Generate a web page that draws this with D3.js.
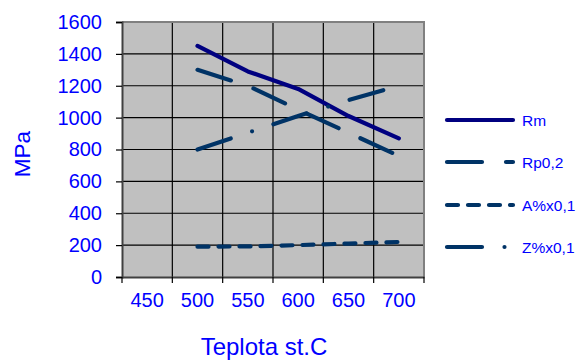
<!DOCTYPE html>
<html><head><meta charset="utf-8">
<script src="https://cdn.jsdelivr.net/npm/d3@7"></script>
<style>html,body{margin:0;padding:0;background:#fff}svg{display:block}</style>
</head><body>
<svg id="c" width="580" height="360"></svg>
<script>
const categories = ["450","500","550","600","650","700"];
const temps = ["500","550","600","650","700"];
const Rm = [1450, 1290, 1180, 1010, 870];
const Rp02 = [1300, 1200, 1050, 905, 760];
const A01 = [190, 192, 200, 210, 220];
const Z01 = [800, 905, 1010, 1110, 1200];
const yTicks = [0,200,400,600,800,1000,1200,1400,1600];
const seriesNames = ["Rm","Rp0,2","A%x0,1","Z%x0,1"];

const series = [
  {name: seriesNames[0], values: Rm, color: "#000080", dash: null},
  {name: seriesNames[1], values: Rp02, color: "#003366", dash: "35,24"},
  {name: seriesNames[2], values: A01, color: "#003366", dash: "11,10"},
  {name: seriesNames[3], values: Z01, color: "#003366", dash: "35,22.5,0,22.5"}
];

const L = 122, R = 424, T = 22, B = 277;
const font = "'Liberation Sans', Arial, sans-serif";
const blue = "#0000ff";
const svg = d3.select("#c");

const x = d3.scaleBand().domain(categories).range([L, R]).padding(0);
const y = d3.scaleLinear().domain([0, 1600]).range([B, T]);

svg.append("rect").attr("x", L).attr("y", T).attr("width", R - L).attr("height", B - T)
  .attr("fill", "#c0c0c0");

svg.append("g").selectAll("line").data(yTicks.filter(d => d > 0 && d < 1600)).join("line")
  .attr("x1", L).attr("x2", R).attr("y1", d => y(d)).attr("y2", d => y(d))
  .attr("stroke", "#000").attr("stroke-width", 1.2);

const bounds = categories.slice(1).map(c => x(c));
svg.append("g").selectAll("line").data(bounds).join("line")
  .attr("x1", d => d).attr("x2", d => d).attr("y1", T).attr("y2", B)
  .attr("stroke", "#000").attr("stroke-width", 1.2);

svg.append("path").attr("d", `M${L},${T}H${R}V${B}`).attr("fill", "none")
  .attr("stroke", "#808080").attr("stroke-width", 2);

const yAxis = d3.axisLeft(y).tickValues(yTicks).tickSize(6).tickPadding(14).tickFormat(d3.format("d"));
const gy = svg.append("g").attr("transform", `translate(${L},0)`).call(yAxis);
gy.select(".domain").attr("stroke", "#404040").attr("stroke-width", 2);
gy.selectAll(".tick line").attr("stroke", "#000").attr("stroke-width", 1.2);
gy.selectAll(".tick text").attr("fill", blue).attr("font-size", 20).attr("font-family", font);

const xAxis = d3.axisBottom(x).tickSize(0).tickPadding(16);
const gx = svg.append("g").attr("transform", `translate(0,${B})`).call(xAxis);
gx.select(".domain").attr("stroke", "#404040").attr("stroke-width", 2);
gx.selectAll(".tick text").attr("fill", blue).attr("font-size", 20).attr("font-family", font);
svg.append("g").selectAll("line").data([L, ...bounds, R]).join("line")
  .attr("x1", d => d).attr("x2", d => d).attr("y1", B).attr("y2", B + 6)
  .attr("stroke", "#000").attr("stroke-width", 1.2);

svg.append("text").attr("x", 264).attr("y", 355).attr("text-anchor", "middle")
  .attr("fill", blue).attr("font-size", 24).attr("font-family", font).text("Teplota st.C");
svg.append("text").attr("transform", "translate(30,154) rotate(-90)").attr("text-anchor", "middle")
  .attr("fill", blue).attr("font-size", 22.5).attr("font-family", font).text("MPa");

const line = d3.line().x((d, i) => x(temps[i]) + x.bandwidth() / 2).y(d => y(d));
series.forEach(s => {
  svg.append("path").attr("d", line(s.values)).attr("fill", "none")
    .attr("stroke", s.color).attr("stroke-width", 4.2)
    .attr("stroke-linecap", "round").attr("stroke-linejoin", "round")
    .attr("stroke-dasharray", s.dash);
});

const legY = [120, 162, 205, 247];
series.forEach((s, i) => {
  svg.append("line").attr("x1", 447).attr("x2", 513).attr("y1", legY[i]).attr("y2", legY[i])
    .attr("stroke", s.color).attr("stroke-width", 4.2).attr("stroke-linecap", "round")
    .attr("stroke-dasharray", s.dash);
  svg.append("text").attr("x", 522).attr("y", legY[i] + 5.5).attr("fill", blue)
    .attr("font-size", 15.5).attr("font-family", font).text(s.name);
});
</script>
</body></html>
